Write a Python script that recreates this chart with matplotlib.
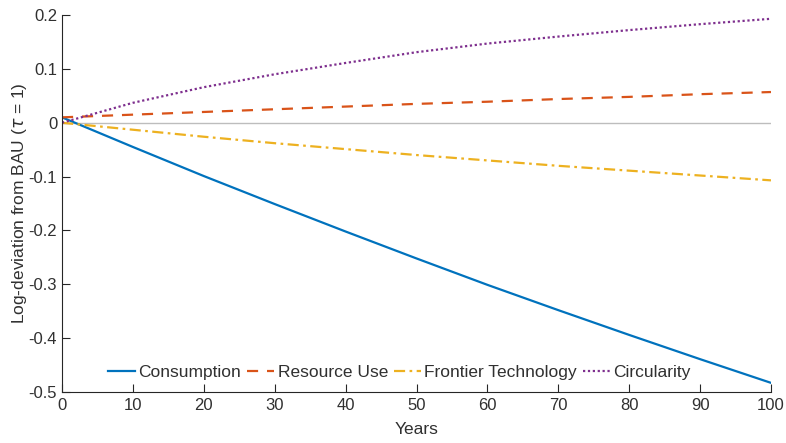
import matplotlib
matplotlib.use("Agg")
import matplotlib.pyplot as plt
from matplotlib.ticker import FuncFormatter

years = [0, 10, 20, 30, 40, 50, 60, 70, 80, 90, 100]
consumption = [0.010, -0.045, -0.099, -0.151, -0.202, -0.252, -0.301, -0.348, -0.394, -0.439, -0.483]
resource_use = [0.010, 0.015, 0.020, 0.025, 0.030, 0.035, 0.039, 0.044, 0.048, 0.053, 0.057]
frontier_tech = [0.000, -0.013, -0.026, -0.038, -0.049, -0.060, -0.070, -0.080, -0.089, -0.098, -0.107]
circularity = [0.000, 0.037, 0.066, 0.090, 0.111, 0.131, 0.147, 0.160, 0.172, 0.183, 0.193]
series_names = ["Consumption", "Resource Use", "Frontier Technology", "Circularity"]
xticks = [0, 10, 20, 30, 40, 50, 60, 70, 80, 90, 100]
yticks = [-0.5, -0.4, -0.3, -0.2, -0.1, 0, 0.1, 0.2]

plt.rcParams['font.family'] = ['Liberation Sans', 'DejaVu Sans']
plt.rcParams['mathtext.fontset'] = 'dejavusans'

fig = plt.figure(figsize=(7.86, 4.43), dpi=100)
ax = fig.add_axes([0.0789, 0.1151, 0.902, 0.851])

tc = '#303030'
ax.axhline(0, color='#BDBDBD', lw=1.0, zorder=1)
ax.plot(years, consumption, color='#0072BD', lw=1.6, ls='-', label=series_names[0])
ax.plot(years, resource_use, color='#D95319', lw=1.6, ls=(0, (5, 4)), label=series_names[1])
ax.plot(years, frontier_tech, color='#EDB120', lw=1.6, ls=(0, (5, 2, 1.2, 2)), label=series_names[2])
ax.plot(years, circularity, color='#7E2F8E', lw=1.6, ls=(0, (1, 1.2)), label=series_names[3])

ax.set_xlim(0, 100)
ax.set_ylim(-0.5, 0.2)
ax.set_xticks(xticks)
ax.set_yticks(yticks)
ax.yaxis.set_major_formatter(FuncFormatter(lambda v, p: ('%g' % round(v, 2)).replace('\u2212', '-')))
for s in ['top', 'right']:
    ax.spines[s].set_visible(False)
for s in ['left', 'bottom']:
    ax.spines[s].set_color('#262626')
    ax.spines[s].set_linewidth(0.8)
ax.tick_params(direction='in', length=6, width=0.8, color='#262626', labelcolor=tc, labelsize=12)
ax.tick_params(axis='x', pad=4)
ax.set_xlabel('Years', fontsize=12.5, color=tc, labelpad=7)
ax.set_ylabel(r'Log-deviation from BAU ($\tau$ = 1)', fontsize=12.5, color=tc, labelpad=-0.5)

leg = ax.legend(loc='lower center', bbox_to_anchor=(0.476, 0.0), ncol=4, frameon=False,
                fontsize=12.5, handlelength=1.55, handletextpad=0.2, columnspacing=0.35,
                borderaxespad=0.3)
for t in leg.get_texts():
    t.set_color(tc)

fig.savefig('out.png', dpi=100)
